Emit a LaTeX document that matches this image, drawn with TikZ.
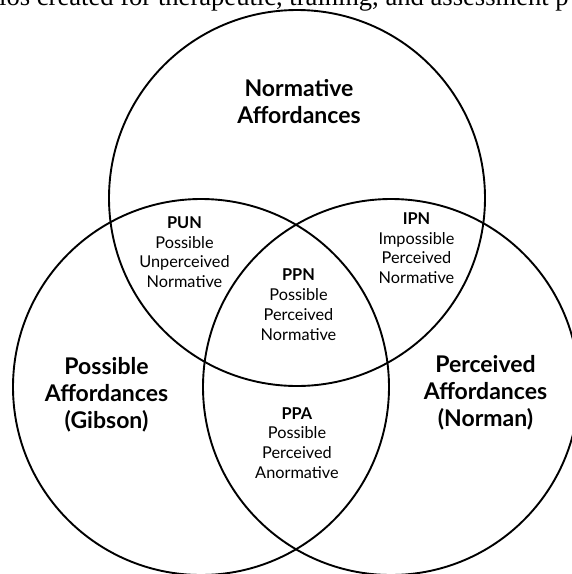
\documentclass[tikz,border=0pt]{standalone}
\usepackage{fontspec}
\setmainfont{Liberation Serif}
\newfontfamily\lato{Lato}
\begin{document}
\begin{tikzpicture}[x=1pt,y=-1pt,
  ring/.style={line width=1.9pt, draw=black},
  biglabel/.style={align=center, inner sep=0pt, anchor=base,
    font=\lato\bfseries\fontsize{23}{26.8}\selectfont},
  smalllabel/.style={align=center, inner sep=0pt, anchor=base,
    font=\lato\fontsize{16.3}{19.7}\selectfont}]
\useasboundingbox (0,0) rectangle (572,574);
\coordinate (ctop) at (297,198);
\coordinate (cleft) at (201,387);
\coordinate (cright) at (391,387);
\draw[ring] (ctop) circle[radius=188pt];
\draw[ring] (cleft) circle[radius=188pt];
\draw[ring] (cright) circle[radius=188pt];
\node[anchor=base west, inner sep=0pt, font=\fontsize{26.6}{30}\selectfont] (cap) at (-1,5)
  {ios created for therapeutic, training, and assessment p};
\node[biglabel] (norm) at (299,123) {Normative\\Affordances};
\node[biglabel] (poss) at (106.5,428.4) {Possible\\Affordances\\(Gibson)};
\node[biglabel] (perc) at (485.5,426.5) {Perceived\\Affordances\\(Norman)};
\node[smalllabel] (pun) at (184.5,287.5) {\textbf{PUN}\\Possible\\Unperceived\\Normative};
\node[smalllabel] (ipn) at (416.5,283.5) {\textbf{IPN}\\Impossible\\Perceived\\Normative};
\node[smalllabel] (ppn) at (298.5,340) {\textbf{PPN}\\Possible\\Perceived\\Normative};
\node[smalllabel] (ppa) at (297,478.3) {\textbf{PPA}\\Possible\\Perceived\\Anormative};
\end{tikzpicture}
\end{document}
